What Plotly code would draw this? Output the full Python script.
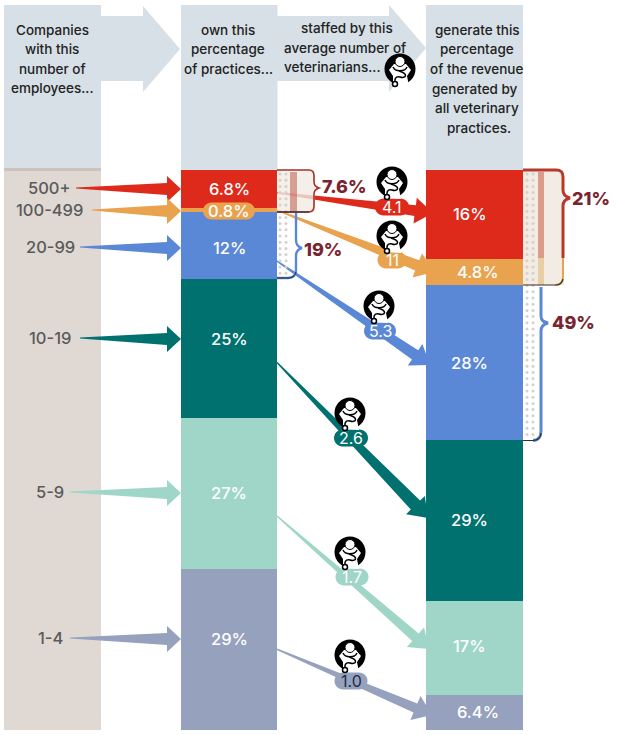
import numpy as np
import plotly.graph_objects as go

# top to bottom, as in the picture
sizes = ["500+", "100-499", "20-99", "10-19", "5-9", "1-4"]
own_pct = [6.8, 0.8, 12, 25, 27, 29]
rev_pct = [16, 4.8, 28, 29, 17, 6.4]
vets = ["4.1", "11", "5.3", "2.6", "1.7", "1.0"]
colors = ["#dd2a1b", "#e9a34f", "#5b88d6", "#00716f", "#9fd6c7", "#96a1bd"]
bracket_labels = ["7.6%", "19%", "21%", "49%"]

FONT = "Inter"
MAROON = "#7b2430"
HEAD_BG = "#d6e0e6"
COL_X = [229, 474.5]
BAR_W = 96.5
TOP, BOTTOM = 170, 730


def seg_y(values, i, frac=0.5):
    # pixel height of a point inside a stacked segment
    total = sum(values)
    before = sum(values[:i])
    return TOP + (before + frac * values[i]) / total * (BOTTOM - TOP)


def poly(pts, color, layer="above", opacity=1):
    path = "M " + " L ".join(f"{x:.1f},{y:.1f}" for x, y in pts) + " Z"
    return dict(type="path", path=path, xref="x", yref="y2", fillcolor=color,
                line=dict(width=0), layer=layer, opacity=opacity)


def rect(x0, y0, x1, y1, color, layer="below", opacity=1):
    return dict(type="rect", x0=x0, x1=x1, y0=y0, y1=y1, xref="x", yref="y2",
                fillcolor=color, line=dict(width=0), layer=layer, opacity=opacity)


def curve(path, color, width=1.5, layer="above"):
    return dict(type="path", path=path, xref="x", yref="y2",
                line=dict(color=color, width=width), layer=layer)


def arrow(sx, sy, tx, ty, w0, w1, hl, hw, color, layer="below"):
    # tapered tail with a triangle head
    d = np.array([tx - sx, ty - sy], dtype=float)
    d = d / np.hypot(*d)
    n = np.array([-d[1], d[0]])
    s = np.array([sx, sy])
    t = np.array([tx, ty])
    b = t - d * hl
    pts = [s + n * w0 / 2, b + n * w1 / 2, b + n * hw, t, b - n * hw, b - n * w1 / 2, s - n * w0 / 2]
    return poly(pts, color, layer)


def pill(cx, cy, w, h, color):
    r = h / 2
    x0, x1 = cx - w / 2, cx + w / 2
    y0, y1 = cy - r, cy + r
    k = r * 0.55
    path = (f"M {x0 + r},{y0} L {x1 - r},{y0} C {x1 - r + k},{y0} {x1},{cy - k} {x1},{cy} "
            f"C {x1},{cy + k} {x1 - r + k},{y1} {x1 - r},{y1} L {x0 + r},{y1} "
            f"C {x0 + r - k},{y1} {x0},{cy + k} {x0},{cy} C {x0},{cy - k} {x0 + r - k},{y0} {x0 + r},{y0} Z")
    return dict(type="path", path=path, xref="x", yref="y2", fillcolor=color,
                line=dict(width=0), layer="above")


def circle(cx, cy, r, fill, line_color=None, lw=0):
    return dict(type="circle", x0=cx - r, x1=cx + r, y0=cy - r, y1=cy + r, xref="x", yref="y2",
                fillcolor=fill, line=dict(color=line_color or fill, width=lw), layer="above")


def vet_icon(cx, cy):
    out = [circle(cx, cy, 15.5, "black")]
    # open bottom and body
    out.append(poly([(cx - 7, cy + 16), (cx - 7, cy + 7), (cx - 11, cy + 1), (cx - 6, cy - 5),
                     (cx + 6, cy - 5), (cx + 11, cy + 1), (cx + 7, cy + 7), (cx + 9, cy + 17)], "white"))
    out.append(circle(cx, cy - 7.5, 5, "white", "black", 1))
    # stethoscope
    out.append(curve(f"M {cx - 7},{cy - 2} C {cx - 5},{cy + 3} {cx + 5},{cy + 3} {cx + 7},{cy - 2}", "black", 1.5))
    out.append(curve(f"M {cx - 1},{cy + 2} C {cx + 9},{cy + 5} {cx + 6},{cy + 10} {cx},{cy + 8} "
                     f"C {cx - 6},{cy + 7} {cx - 5},{cy + 12} {cx - 5},{cy + 13}", "black", 1.5))
    out.append(circle(cx - 5, cy + 15, 2.5, "white", "black", 1.5))
    return out


shapes = []
ann = []


def label(x, y, text, size=13.5, color="#222222", weight=500, anchor="center"):
    ann.append(dict(x=x, y=y, xref="x", yref="y2", text=text,
                    showarrow=False, xanchor=anchor, yanchor="middle",
                    font=dict(family=FONT, size=size, color=color, weight=weight)))


# column backgrounds and header arrows
shapes.append(rect(4, 5, 101, 168, HEAD_BG))
shapes.append(rect(4, 170, 101, BOTTOM, "#e0d8d3"))
shapes.append(rect(4, 168, 101, 171, "#cdc1bb"))
shapes.append(rect(181, 5, 277.5, TOP, HEAD_BG))
shapes.append(rect(426, 5, 523, TOP, HEAD_BG))
shapes.append(poly([(101, 16), (143, 16), (143, 6), (180, 49), (143, 92), (143, 81), (101, 81)], HEAD_BG))
shapes.append(poly([(277, 16), (389, 16), (389, 5), (426, 48), (389, 92), (389, 81), (277, 81)], HEAD_BG))

# left labels with arrows into the first column
left_y = [188, 210, 247, 338, 492, 638]
left_x0 = [76, 92, 80, 80, 70, 70]
left_lx = [49, 49, 50, 50, 50, 50]
for i, s in enumerate(sizes):
    label(left_lx[i], left_y[i], s, 16.5, "#5a5a5a")
    tip = left_y[i] + 1
    shapes.append(poly([(left_x0[i], left_y[i] - 0.5), (167, tip - 6), (167, tip - 13), (181, tip),
                        (167, tip + 13), (167, tip + 6), (left_x0[i], left_y[i] + 0.5)], colors[i]))

# connectors from the first column to the revenue column
start_frac = [0.6, 0.5, 0.73, 0.6, 0.65, 0.5]
tips = [(433, 213), (434, 272), (430, 365), (428, 518), (429, 649), (432, 715)]
necks = [11, 11, 11, 13, 10, 10]
for i in range(6):
    shapes.append(arrow(277, seg_y(own_pct, i, start_frac[i]), tips[i][0], tips[i][1],
                        1.5, necks[i], 18, 13, colors[i]))

# bracket panels beside the columns
shapes.append(rect(277.5, 170, 315, 212.5, "rgba(241,235,227,0.8)", "below"))
shapes.append(rect(290, 172, 297, 212, "rgba(190,90,80,0.55)", "below"))
shapes.append(rect(523, 170, 564, 285, "rgba(241,235,227,0.95)", "below"))
shapes.append(rect(538, 172, 544, 258, "#dc9c8c", "below"))
shapes.append(rect(538, 258, 544, 285, "#e8cfa4", "below"))

shapes.append(curve("M 277,170 L 309,170 C 313,170 314,172 314,176 L 314,182 C 314,186 316,187 319,188 "
                    "C 316,189 314,190 314,194 L 314,206 C 314,210 313,212 309,212 L 277,212", "#a3332b", 1.6))
shapes.append(curve("M 277,212 L 309,212", "#222222", 1))
shapes.append(curve("M 296,213 L 296,240 C 296,245 298,247 302,248 C 298,249 296,251 296,256 L 296,270 "
                    "C 296,276 293,278 288,278 L 277,278", colors[2], 2.4))
shapes.append(curve("M 296,272 C 295,276 292,278 288,278 L 277,278", "#222222", 1))

shapes.append(curve("M 523,170 L 556,170 C 561,170 563,172 563,177 L 563,190 C 563,195 566,197 570,198 "
                    "C 566,199 563,201 563,206 L 563,258", "#b8392c", 3))
shapes.append(curve("M 563,258 L 563,277 C 563,283 560,285 555,285", colors[1], 2))
shapes.append(curve("M 523,285 L 556,285 C 560,285 562,283 563,279", "#3a2f26", 1.2))
shapes.append(curve("M 541,287 L 541,316 C 541,321 544,322 548,323 C 544,324 541,326 541,331 L 541,431 "
                    "C 541,437 538,440.5 533,440.5", colors[2], 3))
shapes.append(curve("M 523,440.5 L 533,440.5 C 538,440.5 541,437 541,433", "#333333", 1.2))

label(344, 186, bracket_labels[0], 18, MAROON, 800)
label(323, 249, bracket_labels[1], 18, MAROON, 800)
label(591, 198, bracket_labels[2], 18, MAROON, 800)
label(573, 322, bracket_labels[3], 18, MAROON, 800)

# veterinarian counts
pill_xy = [(392, 207), (392, 260), (380, 331), (351, 438), (352, 577), (351, 681)]
pill_w = [34, 29, 32, 34, 33, 33]
icon_xy = [(392, 182), (392, 236), (379, 306), (350, 413), (350, 552), (350, 655)]
for i in range(6):
    shapes.append(pill(pill_xy[i][0], pill_xy[i][1], pill_w[i], 17, colors[i]))
    shapes.extend(vet_icon(*icon_xy[i]))
    label(pill_xy[i][0], pill_xy[i][1], vets[i], 16, "#1d2b4a" if i == 5 else "white", 400)
shapes.extend(vet_icon(400, 69))

# headers
for y, t in zip([30, 49, 69, 88], ["Companies", "with this", "number of", "employees..."]):
    label(52, y, t)
for y, t in zip([30, 49, 69], ["own this", "percentage", "of practices..."]):
    label(228, y, t)
for y, t, x in zip([28, 48, 67], ["staffed by this", "average number of", "veterinarians..."], [347, 345, 332]):
    label(x, y, t)
for y, t, x in zip([30, 49, 69, 89, 108, 128],
                   ["generate this", "percentage", "of the revenue", "generated by", "all veterinary", "practices."],
                   [477, 477, 476, 475, 477, 479]):
    label(x, y, t)

# bar value labels
for i in range(6):
    label(COL_X[0], left_y[i] + 1, f"{own_pct[i]}%", 16.5, "white")
    label(COL_X[1] - 5 if i != 1 and i != 5 else COL_X[1] + 3, seg_y(rev_pct, i) - (2 if i == 4 else 0),
          f"{rev_pct[i]}%", 16.5, "white")
shapes.append(pill(COL_X[0], left_y[1] + 1, 52, 17, colors[1]))

fig = go.Figure()
# stacked from the bottom up, so reverse the top-down lists
for i in reversed(range(6)):
    fig.add_trace(go.Bar(x=COL_X, y=[own_pct[i], rev_pct[i]], width=BAR_W, name=sizes[i],
                         marker=dict(color=colors[i], line=dict(width=0)), hoverinfo="skip"))

# dotted texture in the bracket panels
dx, dy = [], []
for x, y0, y1 in [(280, 174, 278), (286, 174, 278), (527, 174, 440), (533, 174, 440)]:
    for y in np.arange(y0, y1, 6.2):
        dx.append(x)
        dy.append(y)
fig.add_trace(go.Scatter(x=dx, y=dy, yaxis="y2", mode="markers", hoverinfo="skip",
                         marker=dict(color="#d6d1c9", size=3)))

px_per_unit = (BOTTOM - TOP) / 100
fig.update_layout(
    width=640, height=735, margin=dict(l=0, r=0, t=0, b=0),
    barmode="stack", barnorm="percent", bargap=0, showlegend=False,
    paper_bgcolor="white", plot_bgcolor="white",
    xaxis=dict(range=[0, 640], visible=False, fixedrange=True),
    yaxis=dict(range=[-(735 - BOTTOM) / px_per_unit, 100 + TOP / px_per_unit], visible=False, fixedrange=True),
    yaxis2=dict(range=[735, 0], overlaying="y", visible=False, fixedrange=True),
    shapes=shapes, annotations=ann,
)
fig.write_html("out.html", config=dict(displayModeBar=False),
               post_script="document.body.style.margin='0';document.body.style.overflow='hidden';")
